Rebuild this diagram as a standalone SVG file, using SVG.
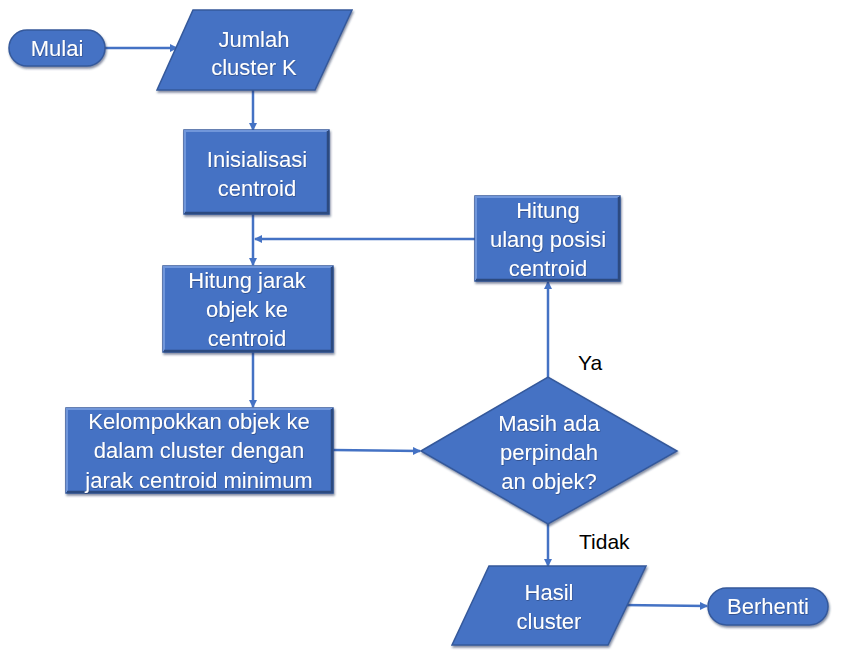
<svg xmlns="http://www.w3.org/2000/svg" width="845" height="650" viewBox="0 0 845 650">
<defs>
<style>
.shape{fill:#4472C4;stroke:#35599B;stroke-width:1.5;filter:url(#sh);}
.hi{fill:none;stroke:#7096DA;stroke-width:2;}
.lo{fill:none;stroke:#2C4A80;stroke-width:2.5;}
.t{font-family:"Liberation Sans",Arial,sans-serif;font-size:22px;fill:#FFFFFF;text-anchor:middle;filter:url(#ts);}
.lbl{font-family:"Liberation Sans",Arial,sans-serif;font-size:21px;fill:#000000;}
.c{fill:none;stroke:#4472C4;stroke-width:2.5;}
</style>
<filter id="sh" x="-10%" y="-10%" width="125%" height="130%">
<feDropShadow dx="1" dy="2" stdDeviation="1.2" flood-color="#1E2F55" flood-opacity="0.55"/>
</filter>
<filter id="ts" x="-5%" y="-20%" width="110%" height="140%">
<feDropShadow dx="0.5" dy="0.8" stdDeviation="0.5" flood-color="#1E2F55" flood-opacity="0.6"/>
</filter>
<marker id="ah" markerWidth="8" markerHeight="8" refX="7" refY="4" orient="auto" markerUnits="userSpaceOnUse">
<path d="M0,0 L8,4 L0,8 Z" fill="#4472C4"/>
</marker>
</defs>
<g id="connectors">
<line class="c" x1="105" y1="48" x2="177" y2="48" marker-end="url(#ah)"/>
<line class="c" x1="253" y1="90" x2="253" y2="130" marker-end="url(#ah)"/>
<line class="c" x1="253" y1="214" x2="253" y2="265" marker-end="url(#ah)"/>
<line class="c" x1="475" y1="239" x2="255" y2="239" marker-end="url(#ah)"/>
<line class="c" x1="253" y1="352" x2="253" y2="407" marker-end="url(#ah)"/>
<line class="c" x1="333" y1="450" x2="420" y2="451" marker-end="url(#ah)"/>
<line class="c" x1="548" y1="377" x2="548" y2="282" marker-end="url(#ah)"/>
<line class="c" x1="548" y1="524" x2="548" y2="566" marker-end="url(#ah)"/>
<line class="c" x1="622" y1="605" x2="707" y2="606" marker-end="url(#ah)"/>
</g>
<g id="mulai">
<rect class="shape" x="9" y="30" width="96" height="36" rx="18"/>
<text class="t" x="57" y="56">Mulai</text>
</g>
<g id="jumlah">
<polygon class="shape" points="193,10 352,10 315,90 157,90"/>
<text class="t" x="254" y="47">Jumlah</text>
<text class="t" x="254" y="75">cluster K</text>
</g>
<g id="inisialisasi">
<rect class="shape" x="184" y="130" width="145" height="84"/>
<polyline class="hi" points="185,213 185,131 328,131"/>
<polyline class="lo" points="185,213 328,213 328,131"/>
<text class="t" x="257" y="167">Inisialisasi</text>
<text class="t" x="257" y="196">centroid</text>
</g>
<g id="hitung-ulang">
<rect class="shape" x="475" y="196" width="145" height="85"/>
<polyline class="hi" points="476,280 476,197 619,197"/>
<polyline class="lo" points="476,280 619,280 619,197"/>
<text class="t" x="548" y="218">Hitung</text>
<text class="t" x="548" y="247">ulang posisi</text>
<text class="t" x="548" y="276">centroid</text>
</g>
<g id="hitung-jarak">
<rect class="shape" x="163" y="266" width="170" height="86"/>
<polyline class="hi" points="164,351 164,267 332,267"/>
<polyline class="lo" points="164,351 332,351 332,267"/>
<text class="t" x="247" y="288">Hitung jarak</text>
<text class="t" x="247" y="317">objek ke</text>
<text class="t" x="247" y="346">centroid</text>
</g>
<g id="kelompokkan">
<rect class="shape" x="66" y="408" width="267" height="85"/>
<polyline class="hi" points="67,492 67,409 332,409"/>
<polyline class="lo" points="67,492 332,492 332,409"/>
<text class="t" x="199" y="429">Kelompokkan objek ke</text>
<text class="t" x="199" y="458">dalam cluster dengan</text>
<text class="t" x="199" y="488">jarak centroid minimum</text>
</g>
<g id="keputusan">
<polygon class="shape" points="421,451 548,377 677,451 548,524"/>
<text class="t" x="549" y="431">Masih ada</text>
<text class="t" x="549" y="460">perpindah</text>
<text class="t" x="549" y="489">an objek?</text>
</g>
<g id="label-ya">
<text class="lbl" x="578" y="370">Ya</text>
</g>
<g id="label-tidak">
<text class="lbl" x="579" y="549">Tidak</text>
</g>
<g id="hasil">
<polygon class="shape" points="489,566 646,566 608,645 452,645"/>
<text class="t" x="549" y="600">Hasil</text>
<text class="t" x="549" y="629">cluster</text>
</g>
<g id="berhenti">
<rect class="shape" x="708" y="588" width="120" height="37" rx="18.5"/>
<text class="t" x="768" y="614">Berhenti</text>
</g>
</svg>
